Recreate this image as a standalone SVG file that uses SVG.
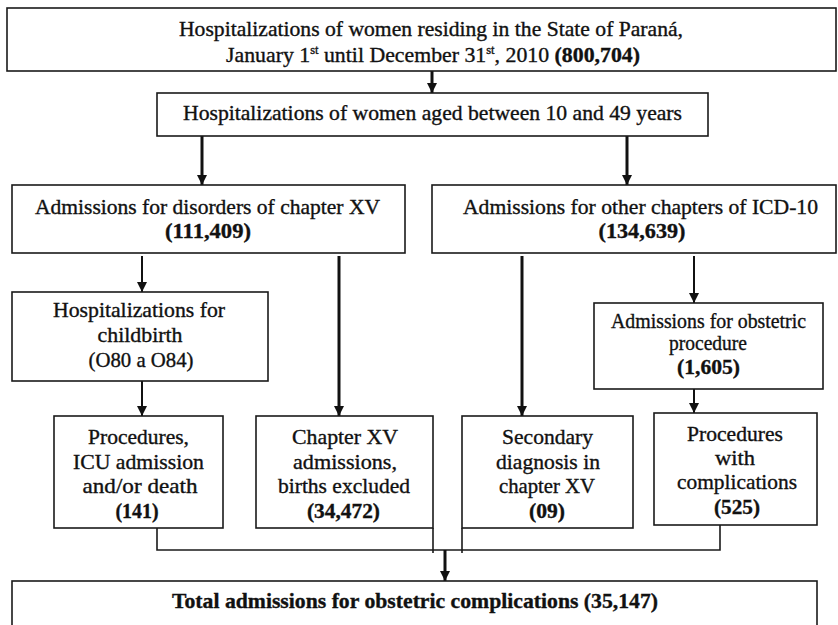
<svg xmlns="http://www.w3.org/2000/svg" width="838" height="625" viewBox="0 0 838 625">
<style>
.box{fill:#fff;stroke:#1a1a1a;stroke-width:1.6}
.t{font-family:"Liberation Serif","Times New Roman",serif;font-size:21px;fill:#111;stroke:#111;stroke-width:0.35;text-anchor:middle}
.b{font-weight:bold}
.sup{font-size:12px}
.thick{stroke:#111;stroke-width:3;fill:none}
.thin{stroke:#111;stroke-width:2;fill:none}
.ln{stroke:#1a1a1a;stroke-width:1.6;fill:none}
</style>
<defs>
<marker id="ah" markerUnits="userSpaceOnUse" markerWidth="10" markerHeight="10" refX="10" refY="5" orient="auto">
<path d="M0,0 L10,5 L0,10 z" fill="#111"/>
</marker>
</defs>
<rect width="838" height="625" fill="#fff"/>

<g id="connectors">
<line class="thick" x1="432" y1="71" x2="432" y2="93" marker-end="url(#ah)"/>
<line class="thick" x1="202" y1="136" x2="202" y2="185" marker-end="url(#ah)"/>
<line class="thick" x1="627" y1="136" x2="627" y2="185" marker-end="url(#ah)"/>
<line class="thin" x1="142" y1="256" x2="142" y2="292" marker-end="url(#ah)"/>
<line class="thick" x1="339" y1="256" x2="339" y2="416" marker-end="url(#ah)"/>
<line class="thick" x1="522" y1="256" x2="522" y2="416" marker-end="url(#ah)"/>
<line class="thin" x1="694" y1="256" x2="694" y2="303" marker-end="url(#ah)"/>
<line class="thin" x1="142" y1="381" x2="142" y2="416" marker-end="url(#ah)"/>
<line class="thin" x1="694" y1="389" x2="694" y2="413" marker-end="url(#ah)"/>
<polyline class="ln" points="157,528 157,550 720,550 720,525"/>
<line class="ln" x1="433" y1="528" x2="433" y2="553"/>
<line class="ln" x1="462" y1="528" x2="462" y2="553"/>
<line class="thick" x1="445" y1="550" x2="445" y2="581" marker-end="url(#ah)"/>
</g>

<g id="n-all">
<rect class="box" x="7" y="8" width="829" height="63"/>
<text class="t" x="431" y="36" textLength="504" lengthAdjust="spacingAndGlyphs">Hospitalizations of women residing in the State of Paraná,</text>
<text class="t" x="433" y="62" textLength="414" lengthAdjust="spacingAndGlyphs">January 1<tspan class="sup" dy="-8">st</tspan><tspan dy="8"> until December 31</tspan><tspan class="sup" dy="-8">st</tspan><tspan dy="8">, 2010 </tspan><tspan class="b">(800,704)</tspan></text>
</g>

<g id="n-age">
<rect class="box" x="157" y="93" width="551" height="43"/>
<text class="t" x="432.5" y="120" textLength="499" lengthAdjust="spacingAndGlyphs">Hospitalizations of women aged between 10 and 49 years</text>
</g>

<g id="n-ch15">
<rect class="box" x="12" y="185" width="393" height="68"/>
<text class="t" x="207.5" y="214" textLength="345" lengthAdjust="spacingAndGlyphs">Admissions for disorders of chapter XV</text>
<text class="t b" x="208" y="238" textLength="86" lengthAdjust="spacingAndGlyphs">(111,409)</text>
</g>

<g id="n-other">
<rect class="box" x="432" y="185" width="404" height="68"/>
<text class="t" x="640.5" y="214" textLength="355" lengthAdjust="spacingAndGlyphs">Admissions for other chapters of ICD-10</text>
<text class="t b" x="642" y="238" textLength="87" lengthAdjust="spacingAndGlyphs">(134,639)</text>
</g>

<g id="n-childbirth">
<rect class="box" x="12" y="292" width="256" height="89"/>
<text class="t" x="139" y="317" textLength="172" lengthAdjust="spacingAndGlyphs">Hospitalizations for</text>
<text class="t" x="140" y="342" textLength="85" lengthAdjust="spacingAndGlyphs">childbirth</text>
<text class="t" x="141" y="367" font-size="19" textLength="105" lengthAdjust="spacingAndGlyphs">(O80 a O84)</text>
</g>

<g id="n-obsproc">
<rect class="box" x="594" y="303" width="229" height="86"/>
<text class="t" x="708.5" y="328" textLength="195" lengthAdjust="spacingAndGlyphs">Admissions for obstetric</text>
<text class="t" x="708" y="350" textLength="78" lengthAdjust="spacingAndGlyphs">procedure</text>
<text class="t b" x="708.5" y="374" textLength="63" lengthAdjust="spacingAndGlyphs">(1,605)</text>
</g>

<g id="n-proc">
<rect class="box" x="54" y="416" width="169" height="112"/>
<text class="t" x="138.5" y="444" textLength="101" lengthAdjust="spacingAndGlyphs">Procedures,</text>
<text class="t" x="138.5" y="469" textLength="131" lengthAdjust="spacingAndGlyphs">ICU admission</text>
<text class="t" x="140" y="493" textLength="115" lengthAdjust="spacingAndGlyphs">and/or death</text>
<text class="t b" x="137" y="518" textLength="43" lengthAdjust="spacingAndGlyphs">(141)</text>
</g>

<g id="n-ch15excl">
<rect class="box" x="256" y="416" width="177" height="112"/>
<text class="t" x="345" y="444" textLength="106" lengthAdjust="spacingAndGlyphs">Chapter XV</text>
<text class="t" x="345" y="469" textLength="104" lengthAdjust="spacingAndGlyphs">admissions,</text>
<text class="t" x="344" y="493" textLength="132" lengthAdjust="spacingAndGlyphs">births excluded</text>
<text class="t b" x="343.5" y="518" textLength="73" lengthAdjust="spacingAndGlyphs">(34,472)</text>
</g>

<g id="n-secondary">
<rect class="box" x="462" y="416" width="171" height="112"/>
<text class="t" x="547.5" y="444" textLength="91" lengthAdjust="spacingAndGlyphs">Secondary</text>
<text class="t" x="548" y="469" textLength="104" lengthAdjust="spacingAndGlyphs">diagnosis in</text>
<text class="t" x="547" y="493" textLength="96" lengthAdjust="spacingAndGlyphs">chapter XV</text>
<text class="t b" x="547" y="518" textLength="36" lengthAdjust="spacingAndGlyphs">(09)</text>
</g>

<g id="n-complic">
<rect class="box" x="654" y="413" width="163" height="112"/>
<text class="t" x="735" y="441" textLength="96" lengthAdjust="spacingAndGlyphs">Procedures</text>
<text class="t" x="735" y="465" textLength="40" lengthAdjust="spacingAndGlyphs">with</text>
<text class="t" x="737" y="489" textLength="120" lengthAdjust="spacingAndGlyphs">complications</text>
<text class="t b" x="737" y="514" textLength="46" lengthAdjust="spacingAndGlyphs">(525)</text>
</g>

<g id="n-total">
<rect class="box" x="12" y="581" width="805" height="60"/>
<text class="t b" x="415" y="608" textLength="486" lengthAdjust="spacingAndGlyphs">Total admissions for obstetric complications (35,147)</text>
</g>
</svg>
